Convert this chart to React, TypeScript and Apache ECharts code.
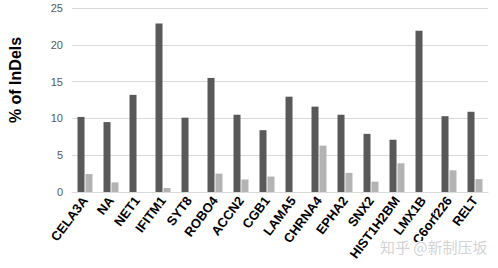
import React, { useEffect, useRef } from "react";
import * as echarts from "echarts";

const categories = ["CELA3A", "NA", "NET1", "IFITM1", "SYT8", "ROBO4", "ACCN2", "CGB1", "LAMA5", "CHRNA4", "EPHA2", "SNX2", "HIST1H2BM", "LMX1B", "C6orf226", "RELT"];
const darkValues = [10.2, 9.5, 13.2, 22.9, 10.1, 15.5, 10.5, 8.4, 12.95, 11.6, 10.5, 7.9, 7.1, 21.9, 10.3, 10.9];
const lightValues = [2.45, 1.3, 0, 0.55, 0, 2.5, 1.7, 2.1, 0, 6.3, 2.6, 1.4, 3.9, 0, 2.95, 1.75];
const yTicks = { min: 0, max: 25, interval: 5 };
const yTitle = "% of InDels";

export default function App() {
  const ref = useRef<HTMLDivElement>(null);
  useEffect(() => {
    const chart = echarts.init(ref.current!, null, { renderer: "svg" });
    chart.setOption({
      animation: false,
      backgroundColor: "#ffffff",
      grid: { left: 72, right: 10, top: 8, bottom: 76 },
      xAxis: {
        type: "category",
        data: categories,
        axisLine: { lineStyle: { color: "#d9d9d9", width: 1 } },
        axisTick: { show: false },
        axisLabel: {
          rotate: 53,
          interval: 0,
          color: "#000",
          fontWeight: "bold",
          fontSize: 13,
          fontFamily: "Liberation Sans, Arial, sans-serif",
          margin: 6,
        },
      },
      yAxis: {
        type: "value",
        min: yTicks.min,
        max: yTicks.max,
        interval: yTicks.interval,
        axisLine: { show: false },
        axisTick: { show: false },
        axisLabel: { color: "#595959", fontSize: 11, margin: 9, fontFamily: "Liberation Sans, Arial, sans-serif" },
        splitLine: { lineStyle: { color: "#d9d9d9", width: 1 } },
      },
      series: [
        {
          type: "bar",
          data: darkValues,
          barWidth: 7,
          barGap: "14%",
          itemStyle: { color: "#595959" },
        },
        {
          type: "bar",
          data: lightValues,
          barWidth: 7,
          itemStyle: { color: "#b3b3b3" },
        },
      ],
      graphic: [
        {
          type: "text",
          x: 15,
          y: 80,
          rotation: Math.PI / 2,
          style: {
            text: yTitle,
            fontSize: 16,
            fontWeight: "bold",
            fill: "#000",
            align: "center",
            verticalAlign: "middle",
            fontFamily: "Liberation Sans, Arial, sans-serif",
          },
        },
        {
          type: "text",
          left: 379,
          top: 238,
          z: 100,
          style: {
            text: "知乎 @新制压坂",
            fontSize: 15,
            fill: "rgba(205,205,205,0.9)",
            stroke: "#ffffff",
            lineWidth: 2,
            fontFamily: "Noto Sans CJK SC, sans-serif",
          },
        },
      ],
    });
    return () => chart.dispose();
  }, []);
  return <div ref={ref} style={{ position: "fixed", left: 0, top: 0, width: 498, height: 268 }} />;
}
